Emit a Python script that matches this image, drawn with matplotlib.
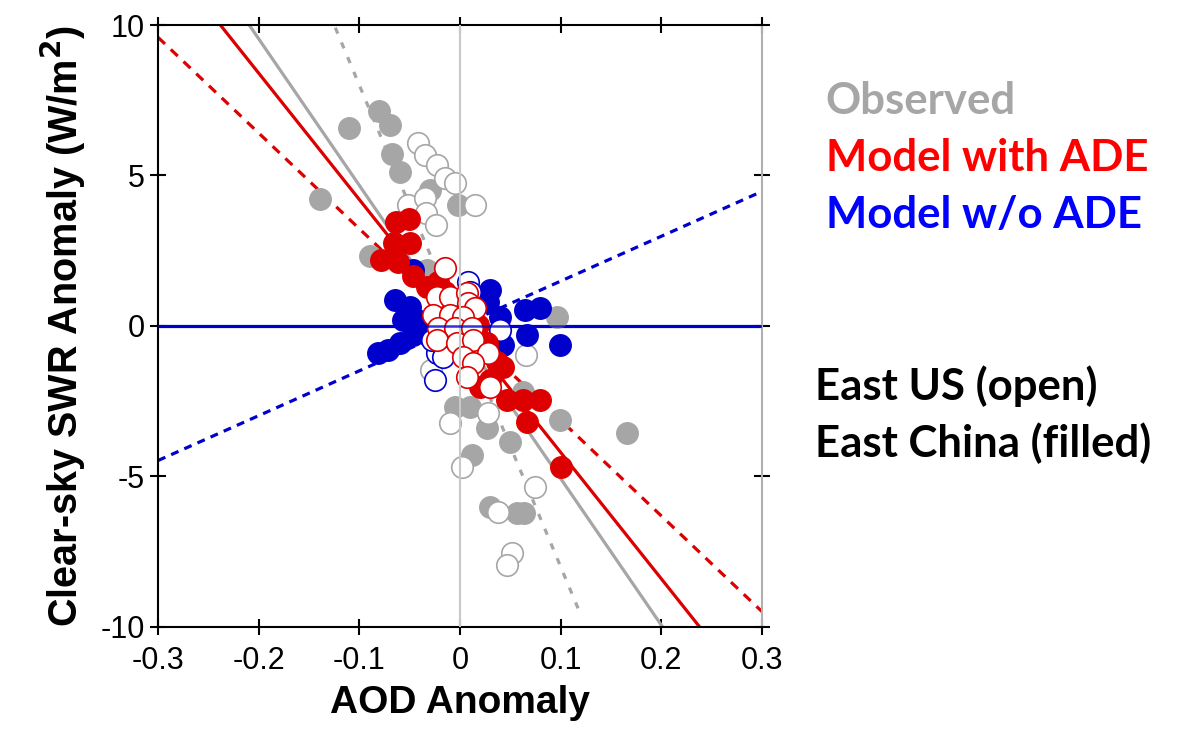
# Clear-sky SWR anomaly vs AOD anomaly: observed vs model with / without ADE

import numpy as np
import matplotlib.pyplot as plt

plt.rcParams['font.family'] = ['Liberation Sans', 'DejaVu Sans']
plt.rcParams['axes.unicode_minus'] = False

# Observed, East China (filled)
obs_cn_aod = [-0.080, -0.070, -0.110, -0.068, -0.060, -0.030, -0.002, -0.139, -0.089, -0.033,
              0.096, 0.063, 0.099, 0.050, 0.012, 0.030, 0.057, 0.064, -0.005, 0.010, 0.027, 0.166]
obs_cn_swr = [7.14, 6.68, 6.58, 5.71, 5.12, 4.52, 4.02, 4.22, 2.33, 1.86,
              0.30, -2.19, -3.12, -3.85, -4.29, -6.01, -6.21, -6.21, -2.69, -2.69, -3.39, -3.55]

# Observed, East US (open)
obs_us_aod = [-0.042, -0.035, -0.023, -0.015, -0.005, 0.015, -0.052, -0.035, -0.034, -0.024,
              -0.029, -0.010, 0.002, 0.028, 0.075, 0.038, 0.052, 0.047, 0.066, -0.015]
obs_us_swr = [6.08, 5.68, 5.35, 4.92, 4.75, 4.02, 4.02, 4.25, 3.75, 3.36,
              -1.46, -3.22, -4.68, -2.89, -5.35, -6.18, -7.54, -7.94, -0.96, -0.80]

# Model without ADE, East China (filled)
noade_cn_aod = [-0.065, -0.050, -0.057, -0.043, -0.047, -0.081, -0.072, -0.060, -0.047,
                0.030, 0.028, 0.065, 0.079, 0.040, 0.067, 0.043, 0.099, -0.030]
noade_cn_swr = [0.86, 0.63, 0.20, 0.20, 1.86, -0.90, -0.80, -0.56, -0.30,
                1.20, 0.80, 0.53, 0.60, 0.30, -0.30, -0.63, -0.63, -0.13]

# Model without ADE, East US (open)
noade_us_aod = [0.008, 0.010, -0.023, -0.025, -0.017, -0.028, 0.040]
noade_us_swr = [1.46, 1.13, -0.90, -1.79, -1.03, -0.47, -0.13]

# Model with ADE, East China (filled)
ade_cn_aod = [-0.064, -0.051, -0.066, -0.050, -0.078, -0.062, -0.047, -0.033, -0.022, -0.015,
              0.027, 0.037, 0.043, 0.030, 0.020, 0.047, 0.063, 0.079, 0.067, 0.100, 0.018]
ade_cn_swr = [3.46, 3.55, 2.76, 2.76, 2.19, 2.13, 1.66, 1.30, 1.46, 1.13,
              -0.56, -1.20, -1.36, -1.79, -2.03, -2.46, -2.46, -2.46, -3.19, -4.68, 0.03]

# Model with ADE, East US (open)
ade_us_aod = [-0.015, -0.023, -0.010, 0.007, 0.008, 0.015, -0.027, -0.010, 0.003, -0.022,
              -0.005, 0.012, -0.023, -0.003, 0.013, 0.003, 0.028, 0.013, 0.007, 0.030]
ade_us_swr = [1.93, 0.96, 0.96, 1.10, 0.76, 0.60, 0.37, 0.37, 0.30, -0.07,
              -0.07, -0.07, -0.47, -0.56, -0.47, -1.03, -0.90, -1.23, -1.69, -2.03]

# regression lines: slope, intercept, x range
fit_names = ['obs_cn', 'obs_us', 'ade_cn', 'ade_us', 'noade_cn', 'noade_us']
fit_slopes = [-48.7, -80.0, -42.0, -31.8, 0.0, 14.9]
fit_intercepts = [-0.2, 0.0, 0.0, 0.05, 0.0, 0.0]
fit_xmin = [-0.3, -0.13, -0.3, -0.3, -0.3, -0.3]
fit_xmax = [0.3, 0.12, 0.3, 0.3, 0.3, 0.3]

gray = '#a6a6a6'
red = '#dd0000'
blue = '#0000cc'

fit_colors = [gray, gray, red, red, blue, blue]
fit_dashes = [None, (2, 3), None, (3, 2.5), None, (2.5, 2)]

fig = plt.figure(figsize=(11.83, 7.29), dpi=100)
ax = fig.add_axes([0.1336, 0.140, 0.5105, 0.8257])

for i in range(len(fit_names)):
    xs = np.array([fit_xmin[i], fit_xmax[i]])
    ys = fit_slopes[i] * xs + fit_intercepts[i]
    if fit_dashes[i] is None:
        ax.plot(xs, ys, color=fit_colors[i], lw=2.3, zorder=2)
    else:
        ax.plot(xs, ys, color=fit_colors[i], lw=2.3, dashes=fit_dashes[i], zorder=2)

ms = 240
ax.scatter(obs_cn_aod, obs_cn_swr, s=ms, color=gray, zorder=3)
ax.scatter(obs_us_aod, obs_us_swr, s=ms, facecolor='white', edgecolor=gray, linewidth=1.2, zorder=3)
ax.scatter(noade_cn_aod, noade_cn_swr, s=ms, color=blue, zorder=4)
ax.scatter(noade_us_aod, noade_us_swr, s=ms, facecolor='white', edgecolor=blue, linewidth=1.2, zorder=4)
ax.scatter(ade_cn_aod, ade_cn_swr, s=ms, color=red, zorder=5)
ax.scatter(ade_us_aod, ade_us_swr, s=ms, facecolor='white', edgecolor=red, linewidth=1.2, zorder=5)

# zero lines
ax.axvline(0, color='#c8c8c8', lw=1.5, zorder=6)
ax.axhline(0, color=blue, lw=1.8, alpha=0.8, zorder=6)

ax.set_xlim(-0.3, 0.3)
ax.set_ylim(-10, 10)
xticks = [-0.3, -0.2, -0.1, 0, 0.1, 0.2, 0.3]
yticks = [-10, -5, 0, 5, 10]
ax.set_xticks(xticks)
ax.set_xticklabels(['-0.3', '-0.2', '-0.1', '0', '0.1', '0.2', '0.3'])
ax.set_yticks(yticks)
ax.set_yticklabels(['-10', '-5', '0', '5', '10'])
ax.tick_params(axis='both', which='major', direction='inout', length=12, width=1.5,
               labelsize=22, top=True, right=True)
ax.tick_params(axis='x', pad=8)

for side in ['left', 'bottom', 'top']:
    ax.spines[side].set_linewidth(1.5)
ax.spines['right'].set_color('#b0b0b0')
ax.spines['right'].set_linewidth(1.5)

ax.set_xlabel('AOD Anomaly', fontsize=28, fontweight='bold', labelpad=6)
ax.set_ylabel('Clear-sky SWR Anomaly (W/m$^\\mathbf{2}$)', fontsize=28.5, fontweight='bold', labelpad=9)

fig.text(0.698, 0.8436, 'Observed', color='#a6a6a6', fontsize=31.5, fontweight='bold',
         family='Lato', va='baseline')
fig.text(0.698, 0.7654, 'Model with ADE', color='#ff0000', fontsize=31.5, fontweight='bold',
         family='Lato', va='baseline')
fig.text(0.698, 0.6872, 'Model w/o ADE', color='#0000ff', fontsize=31.5, fontweight='bold',
         family='Lato', va='baseline')
fig.text(0.689, 0.4513, 'East US (open)', color='black', fontsize=31.5, fontweight='bold',
         family='Lato', va='baseline')
fig.text(0.689, 0.3731, 'East China (filled)', color='black', fontsize=31.5, fontweight='bold',
         family='Lato', va='baseline')

fig.savefig('out.png', dpi=100)
